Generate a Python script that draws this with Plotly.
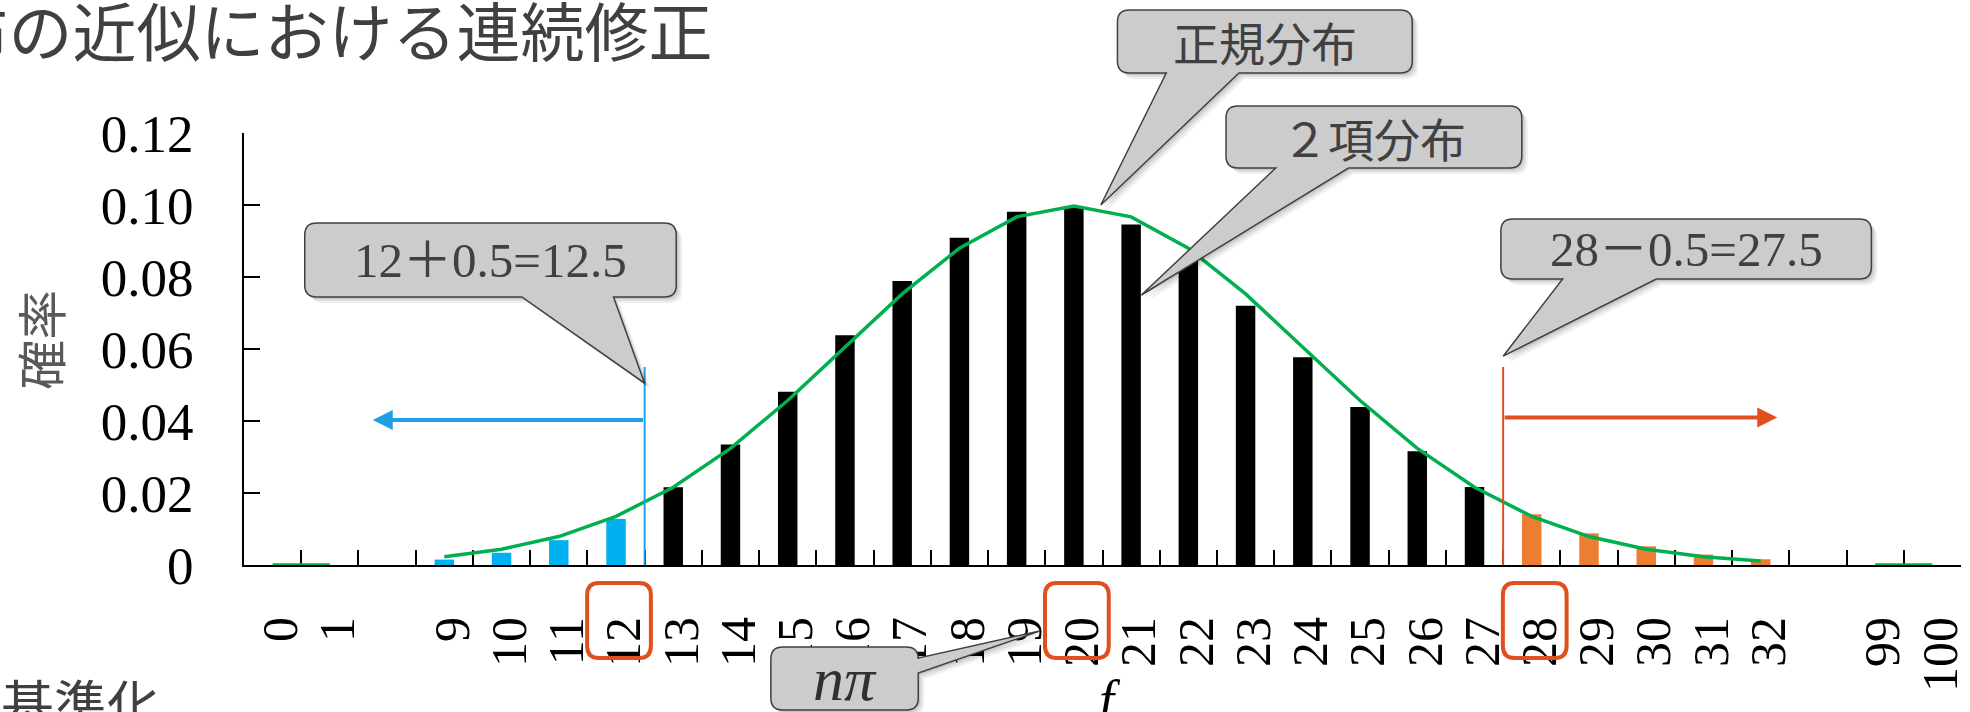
import plotly.graph_objects as go

# ---- data -------------------------------------------------------------
categories = ["0", "1", " ", "9", "10", "11", "12", "13", "14", "15", "16", "17", "18",
              "19", "20", "21", "22", "23", "24", "25", "26", "27", "28", "29", "30",
              "31", "32", "  ", "99", "100"]

lower_f = ["9", "10", "11", "12"]
lower_p = [0.0015, 0.0034, 0.0069, 0.0128]

mid_f = ["13", "14", "15", "16", "17", "18", "19", "20", "21", "22", "23", "24", "25", "26", "27"]
mid_p = [0.0216, 0.0335, 0.0481, 0.0638, 0.0789, 0.0909, 0.0981, 0.0993, 0.0946,
         0.0849, 0.0720, 0.0577, 0.0439, 0.0316, 0.0217]

upper_f = ["28", "29", "30", "31", "32"]
upper_p = [0.0141, 0.0088, 0.0052, 0.0029, 0.0016]

normal_p = [0.0, 0.0, None, 0.0023, 0.0044, 0.0079, 0.0135, 0.0216, 0.0324, 0.0457,
            0.0605, 0.0753, 0.0880, 0.0967, 0.0997, 0.0967, 0.0880, 0.0753, 0.0605,
            0.0457, 0.0324, 0.0216, 0.0135, 0.0079, 0.0044, 0.0023, 0.0011, None, 0.0, 0.0]

y_tickvals = [0, 0.02, 0.04, 0.06, 0.08, 0.10, 0.12]
y_ticktext = ["0", "0.02", "0.04", "0.06", "0.08", "0.10", "0.12"]
Y_MAX = 0.12

lower_cut = 6.5    # 12 + 0.5 (category index)
upper_cut = 21.5   # 28 - 0.5 (category index)

# ---- geometry helpers --------------------------------------------------
W_FIG, H_FIG = 1970, 712
PL, PR, PT, PB = 244, 1968, 133, 565
N = len(categories)

SERIF = "Liberation Serif, Noto Sans CJK JP, serif"
SANS = "Noto Sans CJK JP, Noto Sans, sans-serif"
RED = "#DE501D"
BLUE = "#1FA0E6"
GREEN = "#00B050"
TEXT_GRAY = "#404040"


def to_paper(xp, yp):
    return (xp - PL) / (PR - PL), (PB - yp) / (PB - PT)


def data_px(idx, v):
    return PL + (idx + 0.5) * (PR - PL) / N, PB - v / Y_MAX * (PB - PT)


def fmt(xp, yp):
    a, b = to_paper(xp, yp)
    return f"{a:.5f},{b:.5f}"


def rounded_path(box, r, wedge=None, dx=0, dy=0):
    """Rounded rectangle; optional wedge ('bottom'|'right', (b0, b1), (tx, ty))."""
    x0, y0, x1, y1 = box[0] + dx, box[1] + dy, box[2] + dx, box[3] + dy
    c = [f"M{fmt(x0 + r, y0)}", f"L{fmt(x1 - r, y0)}", f"Q{fmt(x1, y0)} {fmt(x1, y0 + r)}"]
    if wedge and wedge[0] == "right":
        b0, b1 = wedge[1]
        tx, ty = wedge[2]
        c += [f"L{fmt(x1, b0 + dy)}", f"L{fmt(tx + dx, ty + dy)}", f"L{fmt(x1, b1 + dy)}"]
    c += [f"L{fmt(x1, y1 - r)}", f"Q{fmt(x1, y1)} {fmt(x1 - r, y1)}"]
    if wedge and wedge[0] == "bottom":
        b0, b1 = wedge[1]
        tx, ty = wedge[2]
        c += [f"L{fmt(b1 + dx, y1)}", f"L{fmt(tx + dx, ty + dy)}", f"L{fmt(b0 + dx, y1)}"]
    c += [f"L{fmt(x0 + r, y1)}", f"Q{fmt(x0, y1)} {fmt(x0, y1 - r)}",
          f"L{fmt(x0, y0 + r)}", f"Q{fmt(x0, y0)} {fmt(x0 + r, y0)}", "Z"]
    return " ".join(c)


# ---- traces -------------------------------------------------------------
fig = go.Figure()
BAR_W = 0.34
fig.add_trace(go.Bar(x=lower_f, y=lower_p, width=BAR_W, marker=dict(color="#00B0F0", line_width=0)))
fig.add_trace(go.Bar(x=mid_f, y=mid_p, width=BAR_W, marker=dict(color="#000000", line_width=0)))
fig.add_trace(go.Bar(x=upper_f, y=upper_p, width=BAR_W, marker=dict(color="#ED7D31", line_width=0)))
fig.add_trace(go.Scatter(x=categories, y=normal_p, mode="lines", connectgaps=False,
                         line=dict(color=GREEN, width=3.5)))

shapes = []
annotations = []

# continuity-correction boundaries
shapes.append(dict(type="line", xref="x", yref="y", x0=lower_cut, x1=lower_cut, y0=0, y1=0.055,
                   line=dict(color=BLUE, width=2)))
shapes.append(dict(type="line", xref="x", yref="y", x0=upper_cut, x1=upper_cut, y0=0, y1=0.055,
                   line=dict(color=RED, width=2)))

# direction arrows
annotations.append(dict(x=1.75, y=0.0403, ax=lower_cut, ay=0.0403, xref="x", yref="y",
                        axref="x", ayref="y", text="", showarrow=True, arrowhead=2,
                        arrowsize=1, arrowwidth=4, arrowcolor=BLUE, standoff=0))
annotations.append(dict(x=26.29, y=0.0410, ax=upper_cut, ay=0.0410, xref="x", yref="y",
                        axref="x", ayref="y", text="", showarrow=True, arrowhead=2,
                        arrowsize=1, arrowwidth=4, arrowcolor=RED, standoff=0))

# callouts: box (px), wedge, label, font
callouts = [
    dict(box=(1121, 10, 1417, 73), wedge=("bottom", (1170, 1243), data_px(14.47, 0.100)),
         text="正規分布", font=dict(family=SANS, size=46, color=TEXT_GRAY)),
    dict(box=(1230, 106, 1527, 168), wedge=("bottom", (1280, 1353), data_px(15.18, 0.075)),
         text="２項分布", font=dict(family=SANS, size=46, color=TEXT_GRAY)),
    dict(box=(305, 223, 678, 297), wedge=("bottom", (523, 615), data_px(lower_cut, 0.0505)),
         text="12＋0.5=12.5", font=dict(family=SERIF, size=49, color=TEXT_GRAY)),
    dict(box=(1506, 219, 1878, 279), wedge=("bottom", (1568, 1662), data_px(upper_cut, 0.058)),
         text="28－0.5=27.5", font=dict(family=SERIF, size=49, color=TEXT_GRAY)),
    dict(box=(773, 647, 921, 710), wedge=("right", (658, 673), (1043, 631)),
         text="<i>nπ</i>", font=dict(family=SERIF, size=62, color="#303030")),
]

for co in callouts:
    for off, alpha in ((6, 0.06), (4, 0.08), (2, 0.10)):
        shapes.append(dict(type="path", xref="paper", yref="paper",
                           path=rounded_path(co["box"], 12, co["wedge"], dx=off, dy=off),
                           fillcolor=f"rgba(0,0,0,{alpha})", line=dict(width=0), layer="above"))
    shapes.append(dict(type="path", xref="paper", yref="paper",
                       path=rounded_path(co["box"], 12, co["wedge"]),
                       fillcolor="#CCCCCC", line=dict(color="#404040", width=1.5), layer="above"))
    bx0, by0, bx1, by1 = co["box"]
    cx, cy = to_paper((bx0 + bx1) / 2, (by0 + by1) / 2)
    annotations.append(dict(x=cx, y=cy, xref="paper", yref="paper", text=co["text"],
                            showarrow=False, xanchor="center", yanchor="middle", font=co["font"]))

# highlighted tick labels
for lab in ["12", "20", "28"]:
    cxp, _ = data_px(categories.index(lab), 0)
    shapes.append(dict(type="path", xref="paper", yref="paper",
                       path=rounded_path((cxp - 29, 583, cxp + 35, 658), 12),
                       fillcolor="rgba(0,0,0,0)", line=dict(color=RED, width=4), layer="above"))

# titles
tx, ty = to_paper(717, 28)
annotations.append(dict(x=tx, y=ty, xref="paper", yref="paper", text="2項分布の近似における連続修正",
                        showarrow=False, xanchor="right", yanchor="middle",
                        font=dict(family=SANS, size=64, color=TEXT_GRAY)))
tx, ty = to_paper(38, 340)
annotations.append(dict(x=tx, y=ty, xref="paper", yref="paper", text="確率", textangle=-90,
                        showarrow=False, xanchor="center", yanchor="middle",
                        font=dict(family=SANS, size=50, color="#595959")))
tx, ty = to_paper(1114, 700)
annotations.append(dict(x=tx, y=ty, xref="paper", yref="paper", text="<i>f</i>",
                        showarrow=False, xanchor="center", yanchor="middle",
                        font=dict(family=SERIF, size=54, color="#000000")))
tx, ty = to_paper(-2, 662)
annotations.append(dict(x=tx, y=ty, xref="paper", yref="paper", text="基準化",
                        showarrow=False, xanchor="left", yanchor="top",
                        font=dict(family=SANS, size=53, color=TEXT_GRAY)))

fig.update_layout(
    width=W_FIG, height=H_FIG,
    margin=dict(l=PL, r=W_FIG - PR, t=PT, b=H_FIG - PB, pad=0),
    paper_bgcolor="white", plot_bgcolor="white",
    showlegend=False, barmode="overlay",
    shapes=shapes, annotations=annotations,
    xaxis=dict(type="category", categoryorder="array", categoryarray=categories,
               tickmode="array", tickvals=categories, ticktext=categories,
               range=[-0.5, N - 0.5], tickson="boundaries", ticks="inside", ticklen=15,
               tickwidth=2, tickcolor="black", showline=True, linecolor="black", linewidth=2,
               tickangle=-90, ticklabelstandoff=30, ticklabelshift=8,
               showgrid=False, zeroline=False, layer="below traces",
               tickfont=dict(family=SERIF, size=50, color="black")),
    yaxis=dict(range=[0, Y_MAX], tickmode="array", tickvals=y_tickvals, ticktext=y_ticktext,
               ticks="inside", ticklen=16, tickwidth=2, tickcolor="black", showline=True,
               linecolor="black", linewidth=2, showgrid=False, zeroline=False,
               ticklabelstandoff=38, layer="below traces",
               tickfont=dict(family=SERIF, size=53, color="black")),
)

fig.write_html("out.html")
